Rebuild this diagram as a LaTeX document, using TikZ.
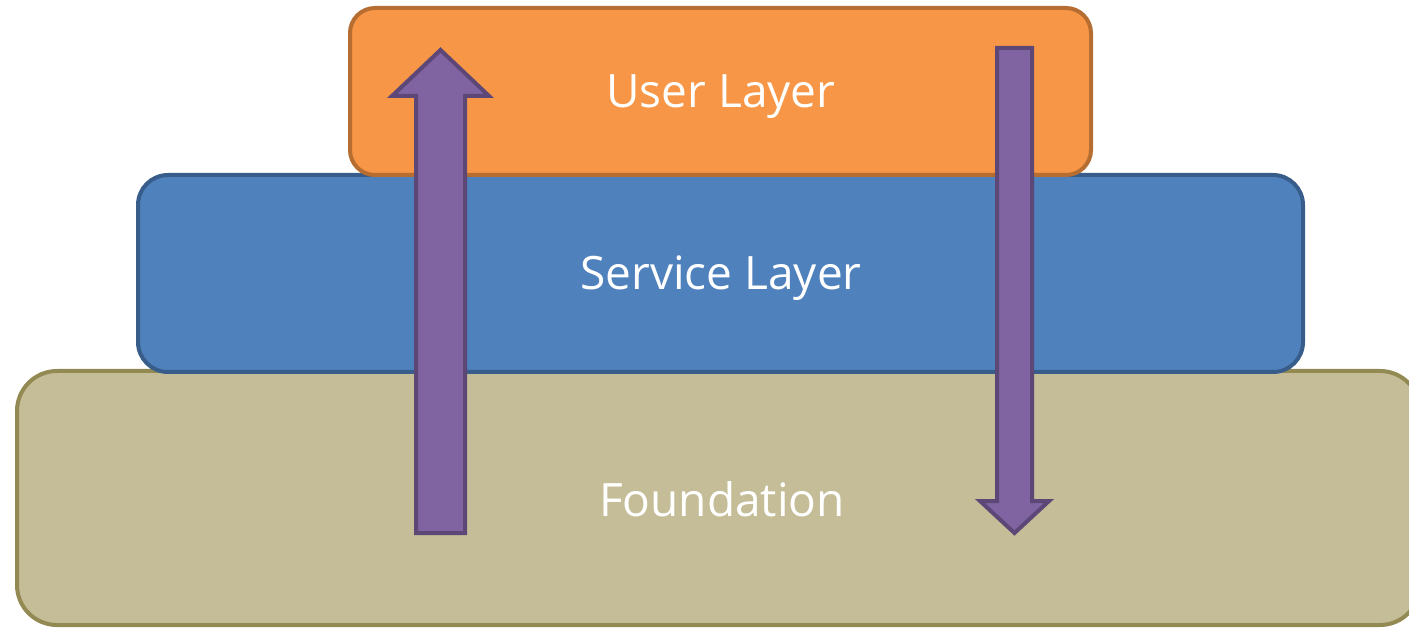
\documentclass[tikz,border=0pt]{standalone}
\usepackage{fontspec}
\setmainfont{Open Sans}
\definecolor{userfill}{HTML}{F79646}
\definecolor{userline}{HTML}{B66D31}
\definecolor{servfill}{HTML}{4F81BD}
\definecolor{servline}{HTML}{385D8A}
\definecolor{foundfill}{HTML}{C4BD97}
\definecolor{foundline}{HTML}{938953}
\definecolor{arrfill}{HTML}{8064A2}
\definecolor{arrline}{HTML}{5C4776}
\begin{document}
\begin{tikzpicture}[x=1pt,y=-1pt]
	\tikzstyle{layer}=[draw,line width=4pt,text=white,inner sep=0pt,font=\fontsize{46}{54}\selectfont]
	\tikzstyle{layerlbl}=[layer,draw=none,anchor=base]
	\tikzstyle{blockarrow}=[draw=arrline,fill=arrfill,line width=4pt,line join=miter]
	\useasboundingbox (0,0) rectangle (1409,628);
	\node[layer,fill=foundfill,draw=foundline,rounded corners=40pt,minimum width=1403pt,minimum height=254pt] (found) at (718.5,498) {};
	\node[layer,fill=servfill,draw=servline,rounded corners=30pt,minimum width=1165pt,minimum height=197pt] (serv) at (720.5,273.5) {};
	\node[layer,fill=userfill,draw=userline,rounded corners=25pt,minimum width=741pt,minimum height=167pt] (user) at (720.5,91.5) {};
	\node[layerlbl] (userlbl) at (721,108) {User Layer};
	\node[layerlbl] (servlbl) at (721,290) {Service Layer};
	\node[layerlbl] (foundlbl) at (722,516) {Foundation};
	% up and down arrows
	\draw[blockarrow] (416,533) -- (465,533) -- (465,96) -- (489,96) -- (440.5,50) -- (392,96) -- (416,96) -- cycle;
	\draw[blockarrow] (997,48) -- (1032,48) -- (1032,501) -- (1049,501) -- (1014.5,533) -- (980,501) -- (997,501) -- cycle;
\end{tikzpicture}
\end{document}
